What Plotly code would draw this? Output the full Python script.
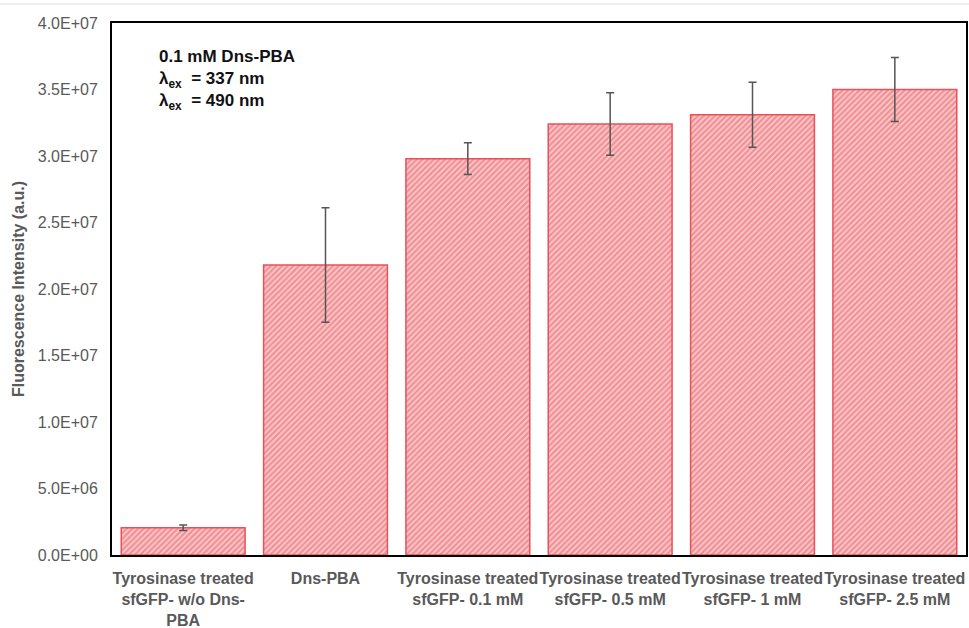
import plotly.graph_objects as go

categories = [
    "Tyrosinase treated<br>sfGFP- w/o Dns-<br>PBA",
    "Dns-PBA",
    "Tyrosinase treated<br>sfGFP- 0.1 mM",
    "Tyrosinase treated<br>sfGFP- 0.5 mM",
    "Tyrosinase treated<br>sfGFP- 1 mM",
    "Tyrosinase treated<br>sfGFP- 2.5 mM",
]
values = [2.05e6, 2.18e7, 2.98e7, 3.24e7, 3.31e7, 3.50e7]
errors = [0.2e6, 4.3e6, 1.2e6, 2.35e6, 2.45e6, 2.4e6]
ytick_vals = [0, 5e6, 1e7, 1.5e7, 2e7, 2.5e7, 3e7, 3.5e7, 4e7]
ytick_text = ["0.0E+00", "5.0E+06", "1.0E+07", "1.5E+07", "2.0E+07",
              "2.5E+07", "3.0E+07", "3.5E+07", "4.0E+07"]

FONT = "Liberation Sans, Arial"

fig = go.Figure()
fig.add_trace(go.Bar(
    x=categories, y=values,
    width=0.87,
    marker=dict(
        color="#f7bcc0",
        line=dict(color="#ea5059", width=1.5),
        pattern=dict(shape="/", fgcolor="#e9555e", bgcolor="#f9cacc", size=4, solidity=0.55),
    ),
    error_y=dict(type="data", array=errors, visible=True, color="#555555", thickness=1.5, width=4),
))

fig.add_annotation(
    x=0.053, y=0.958, xref="paper", yref="paper", xanchor="left", yanchor="top",
    align="left", showarrow=False,
    text="<b>0.1 mM Dns-PBA<br>λ<sub>ex</sub>  = 337 nm<br>λ<sub>ex</sub>  = 490 nm</b>",
    font=dict(family=FONT, size=17, color="#111111"),
)

fig.add_shape(type="line", xref="paper", yref="paper",
              x0=-0.14, x1=1.01, y0=1.0357, y1=1.0357,
              line=dict(color="#dddddd", width=1))

fig.update_layout(
    width=969, height=628,
    margin=dict(l=112, r=3, t=23, b=73),
    plot_bgcolor="white", paper_bgcolor="white",
    showlegend=False,
    xaxis=dict(
        showline=True, linecolor="black", linewidth=2, mirror=True,
        ticks="", showgrid=False, ticklabelstandoff=8, tickangle=0, automargin=False,
        tickfont=dict(family=FONT, size=16, color="#595959", weight="bold"),
    ),
    yaxis=dict(
        range=[0, 4e7], tickvals=ytick_vals, ticktext=ytick_text,
        showline=True, linecolor="black", linewidth=2, mirror=True,
        ticks="", showgrid=False, zeroline=False, ticklabelstandoff=9, automargin=False,
        tickfont=dict(family=FONT, size=16, color="#595959"),
        title=dict(text="<b>Fluorescence Intensity (a.u.)</b>", standoff=9,
                   font=dict(family=FONT, size=16, color="#595959")),
    ),
)

fig.write_html("out.html")
